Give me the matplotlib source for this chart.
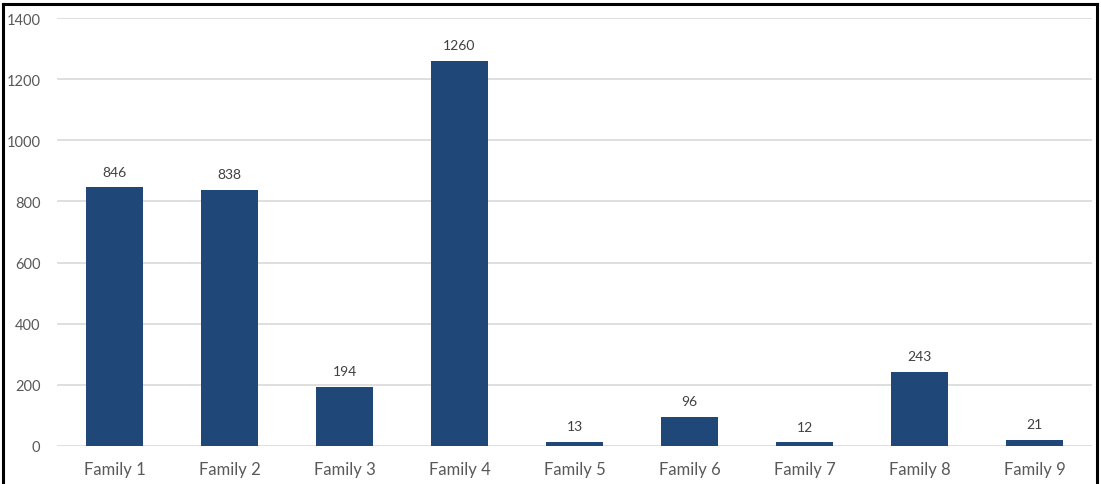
import matplotlib
matplotlib.use('Agg')
import matplotlib.pyplot as plt
from matplotlib.lines import Line2D

families = ['Family 1', 'Family 2', 'Family 3', 'Family 4', 'Family 5',
            'Family 6', 'Family 7', 'Family 8', 'Family 9']
counts = [846, 838, 194, 1260, 13, 96, 12, 243, 21]
yticks = [0, 200, 400, 600, 800, 1000, 1200, 1400]
title = 'Average Number of Proteins Found by Each Gene Family'

plt.rcParams['font.family'] = ['Lato', 'DejaVu Sans']

fig = plt.figure(figsize=(11.01, 4.85), dpi=100)
ax = fig.add_axes([0.0518, 0.0784, 0.9400, 0.8824])

x = range(len(families))
bars = ax.bar(x, counts, width=0.5, color='#1f4778', zorder=3)
for b, v in zip(bars, counts):
    ax.annotate(str(v), (b.get_x() + b.get_width() / 2, v), xytext=(0, 7),
                textcoords='offset points', ha='center', va='bottom',
                fontsize=10, color='#404040')

ax.set_xlim(-0.5, len(families) - 0.5)
ax.set_ylim(0, 1400)
ax.set_yticks(yticks)
ax.set_xticks(list(x))
ax.set_xticklabels(families, fontsize=12, color='#595959')
ax.tick_params(axis='y', labelsize=10.5, labelcolor='#595959', length=0, pad=12)
ax.tick_params(axis='x', length=0, pad=11)
ax.grid(axis='y', color='#d9d9d9', linewidth=1.2, zorder=0)
for s in ax.spines.values():
    s.set_visible(False)

# title sits above the frame, only its descenders reach into the figure
fig.text(0.5, 1.0085, title, ha='center', va='baseline', fontsize=17,
         fontweight='bold', color='black')

# black frame round the chart (no bottom edge)
top = 1 - 5 / 485
lw = 2.2
fig.add_artist(Line2D([3 / 1101, 3 / 1101], [0, top], color='black', lw=lw))
fig.add_artist(Line2D([3 / 1101, 1097 / 1101], [top, top], color='black', lw=lw))
fig.add_artist(Line2D([1097 / 1101, 1097 / 1101], [0, top], color='black', lw=lw))

fig.savefig('out.png', dpi=100)
